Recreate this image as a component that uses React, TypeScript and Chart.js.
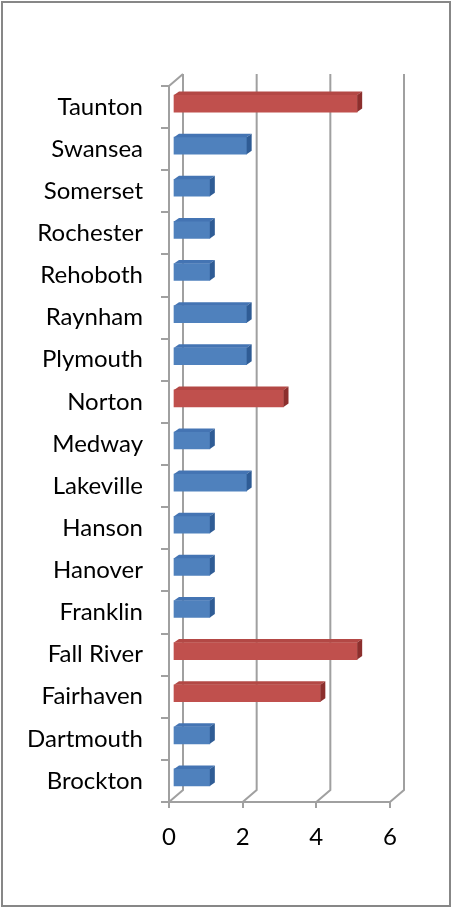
import { useEffect, useRef } from "react";
import { Chart, registerables } from "chart.js";

Chart.register(...registerables);

const categories = [
  "Taunton", "Swansea", "Somerset", "Rochester", "Rehoboth", "Raynham",
  "Plymouth", "Norton", "Medway", "Lakeville", "Hanson", "Hanover",
  "Franklin", "Fall River", "Fairhaven", "Dartmouth", "Brockton",
];
const values = [5, 2, 1, 1, 1, 2, 2, 3, 1, 2, 1, 1, 1, 5, 4, 1, 1];
const xTicks = [0, 2, 4, 6];
const highThreshold = 3;

const W = 452;
const H = 908;
const DX = 14, DY = -12;     // wall depth
const BX = 4, BY = -3.5;     // bar front offset into depth
const TX = 5, TY = -3.5;     // bar depth
const GRID = "#A0A0A0";
const FONT = { family: "Lato, sans-serif", size: 24 };

const isHigh = (v: number) => v >= highThreshold;

const threeD = {
  id: "threeD",
  beforeDraw(chart: any) {
    const ctx = chart.ctx;
    ctx.save();
    ctx.fillStyle = "#fff";
    ctx.fillRect(0, 0, chart.width, chart.height);
    ctx.strokeStyle = "#878787";
    ctx.lineWidth = 2;
    ctx.strokeRect(2, 2, chart.width - 4, chart.height - 4);
    ctx.restore();
  },
  beforeDatasetsDraw(chart: any) {
    const ctx = chart.ctx;
    const a = chart.chartArea;
    const x = chart.scales.x;
    ctx.save();
    ctx.strokeStyle = GRID;
    ctx.lineWidth = 2;
    ctx.lineJoin = "miter";
    ctx.beginPath();
    for (const v of xTicks) {
      const px = x.getPixelForValue(v);
      ctx.moveTo(px + DX, a.top + DY);
      ctx.lineTo(px + DX, a.bottom + DY);
      ctx.lineTo(px, a.bottom);
    }
    const x0 = x.getPixelForValue(0);
    ctx.moveTo(x0, a.top);
    ctx.lineTo(x0 + DX, a.top + DY);
    ctx.stroke();
    ctx.restore();
    ctx.save();
    ctx.translate(BX, BY);
  },
  afterDatasetsDraw(chart: any) {
    const ctx = chart.ctx;
    const meta = chart.getDatasetMeta(0);
    meta.data.forEach((bar: any, i: number) => {
      const p = bar.getProps(["x", "y", "base", "height"], true);
      const top = p.y - p.height / 2;
      const bottom = p.y + p.height / 2;
      const high = isHigh(values[i]);
      ctx.fillStyle = high ? "#B34845" : "#4474B3";
      ctx.beginPath();
      ctx.moveTo(p.base, top);
      ctx.lineTo(p.base + TX, top + TY);
      ctx.lineTo(p.x + TX, top + TY);
      ctx.lineTo(p.x, top);
      ctx.closePath();
      ctx.fill();
      ctx.fillStyle = high ? "#8C2F2D" : "#2F5C95";
      ctx.beginPath();
      ctx.moveTo(p.x, top);
      ctx.lineTo(p.x + TX, top + TY);
      ctx.lineTo(p.x + TX, bottom + TY);
      ctx.lineTo(p.x, bottom);
      ctx.closePath();
      ctx.fill();
    });
    ctx.restore();
  },
};

export default function App() {
  const ref = useRef<HTMLCanvasElement>(null);
  useEffect(() => {
    if (!ref.current) return;
    const chart = new Chart(ref.current, {
      type: "bar",
      data: {
        labels: categories,
        datasets: [
          {
            data: values,
            backgroundColor: (c: any) => (isHigh(values[c.dataIndex]) ? "#C0504D" : "#4F81BD"),
            borderWidth: 0,
            barThickness: 17,
            clip: false as any,
          },
        ],
      },
      options: {
        indexAxis: "y",
        animation: false,
        responsive: false,
        maintainAspectRatio: false,
        events: [],
        layout: { padding: { left: 0, top: 86, right: 62, bottom: 0 } },
        plugins: { legend: { display: false }, tooltip: { enabled: false } },
        scales: {
          x: {
            min: 0,
            max: 6,
            ticks: { stepSize: 2, color: "#000", font: FONT, padding: 15 },
            grid: { drawOnChartArea: false, tickLength: 6, color: GRID, lineWidth: 2 },
            border: { display: true, color: GRID, width: 2 },
            afterFit(scale: any) { scale.height = 106; },
          },
          y: {
            ticks: { color: "#000", font: FONT, padding: 18 },
            grid: { drawOnChartArea: false, tickLength: 8, color: GRID, lineWidth: 2, offset: true },
            border: { display: true, color: GRID, width: 2 },
            afterFit(scale: any) { scale.width = 169; },
          },
        },
      },
      plugins: [threeD],
    } as any);
    return () => chart.destroy();
  }, []);
  return (
    <canvas
      ref={ref}
      width={W}
      height={H}
      style={{ position: "fixed", left: 0, top: 0, width: W, height: H, display: "block" }}
    />
  );
}
